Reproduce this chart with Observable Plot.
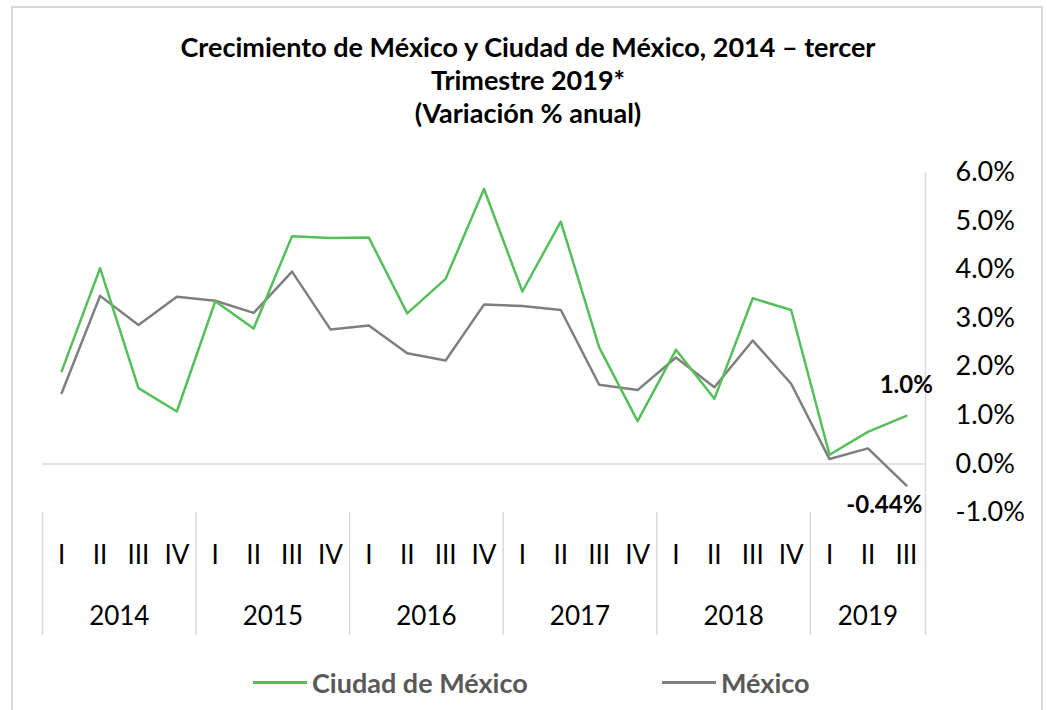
<!DOCTYPE html>
<html>
<head>
<meta charset="utf-8">
<script src="https://cdn.jsdelivr.net/npm/d3@7"></script>
<script src="https://cdn.jsdelivr.net/npm/@observablehq/plot@0.6"></script>
<style>
  html, body { margin: 0; padding: 0; background: #fff; }
  body { width: 1047px; height: 710px; position: relative; overflow: hidden; font-family: Lato, "Open Sans", sans-serif; }
  #frame { position: absolute; left: 11px; top: 6px; width: 1032px; height: 720px; border: 2px solid #d9d9d9; box-sizing: border-box; }
  #title { position: absolute; left: 11px; width: 1034px; top: 30px; text-align: center; font-weight: 700; font-size: 27px; line-height: 33px; color: #000; }
  #chart { position: absolute; left: 0; top: 140px; }
  #legend { position: absolute; left: 0; top: 664px; width: 1047px; height: 36px; font-weight: 700; font-size: 27px; color: #595959; }
  .item { position: absolute; top: 0; display: flex; align-items: center; height: 36px; }
  .sw { display: inline-block; width: 54px; height: 3px; margin-right: 5px; }
</style>
</head>
<body>
<div id="frame"></div>
<div id="title">Crecimiento de México y Ciudad de México, 2014 – tercer<br>Trimestre 2019*<br>(Variación % anual)</div>
<div id="chart"></div>
<div id="legend"></div>
<script>
// Data
const years = ["2014", "2015", "2016", "2017", "2018", "2019"];
const quartersPerYear = [4, 4, 4, 4, 4, 3];
const quarterNames = ["I", "II", "III", "IV"];
const seriesNames = ["Ciudad de México", "México"];
const seriesColors = ["#55bf5b", "#7f7f7f"];
const cdmx = [1.91, 4.03, 1.56, 1.08, 3.35, 2.79, 4.69, 4.65, 4.66, 3.10, 3.81, 5.66,
              3.55, 4.99, 2.40, 0.88, 2.35, 1.34, 3.41, 3.17, 0.19, 0.66, 0.99];
const mexico = [1.46, 3.46, 2.86, 3.44, 3.36, 3.11, 3.96, 2.77, 2.85, 2.28, 2.13, 3.28,
                3.25, 3.17, 1.63, 1.52, 2.19, 1.58, 2.54, 1.65, 0.10, 0.32, -0.44];
const endLabels = ["1.0%", "-0.44%"];
const yTicks = [-1, 0, 1, 2, 3, 4, 5, 6];

// Build tables
const quarters = [];
years.forEach((y, yi) => { for (let q = 0; q < quartersPerYear[yi]; q++) quarters.push({year: y, q: quarterNames[q]}); });
const rows = [];
quarters.forEach((d, i) => {
  rows.push({i, value: cdmx[i], series: seriesNames[0]});
  rows.push({i, value: mexico[i], series: seriesNames[1]});
});
const n = quarters.length;
const separators = [];
const yearCenters = [];
let start = 0;
quartersPerYear.forEach((k, yi) => {
  separators.push(start - 0.5);
  yearCenters.push({x: start + (k - 1) / 2, label: years[yi]});
  start += k;
});
separators.push(n - 0.5);
const last = n - 1;
const endPts = [
  {i: last, value: cdmx[last], label: endLabels[0]},
  {i: last, value: mexico[last], label: endLabels[1]}
];

const chart = Plot.plot({
  width: 1047,
  height: 510,
  marginLeft: 42,
  marginRight: 122,
  marginTop: 32,
  marginBottom: 138,
  style: {fontFamily: "Lato, 'Open Sans', sans-serif", color: "#000", background: "transparent"},
  x: {domain: [-0.5, n - 0.5], axis: null},
  y: {domain: [-1, 6], axis: null},
  color: {domain: seriesNames, range: seriesColors},
  marks: [
    Plot.ruleY([0], {stroke: "#d9d9d9", strokeWidth: 1.5}),
    Plot.ruleX([n - 0.5], {stroke: "#d9d9d9", strokeWidth: 1.5}),
    Plot.axisX({ticks: separators, tickSize: 123, tickFormat: () => "", label: null, stroke: "#d9d9d9", strokeWidth: 1.5, strokeOpacity: 1}),
    Plot.axisX({ticks: d3.range(n), tickSize: 0, tickPadding: 33, label: null, tickFormat: i => quarters[i].q, fontSize: 26, fill: "#000"}),
    Plot.axisX({ticks: yearCenters.map(d => d.x), tickSize: 0, tickPadding: 94, label: null, tickFormat: x => yearCenters.find(d => d.x === x).label, fontSize: 26, fill: "#000"}),
    Plot.axisY({anchor: "right", ticks: yTicks, tickSize: 0, tickPadding: 30, label: null, textAnchor: "start", tickFormat: d => d.toFixed(1) + "%", fontSize: 27, fill: "#000"}),
    Plot.line(rows.filter(d => d.series === seriesNames[1]), {x: "i", y: "value", stroke: "series", strokeWidth: 2.5}),
    Plot.line(rows.filter(d => d.series === seriesNames[0]), {x: "i", y: "value", stroke: "series", strokeWidth: 2.5}),
    Plot.text([endPts[0]], {x: "i", y: "value", text: "label", dy: -31, dx: 0, fontSize: 24, fontWeight: 700, fill: "#000"}),
    Plot.text([endPts[1]], {x: "i", y: "value", text: "label", dy: 20, dx: -22, fontSize: 24, fontWeight: 700, fill: "#000"})
  ]
});
document.getElementById("chart").appendChild(chart);

// Legend
const legend = document.getElementById("legend");
const legendX = [253, 662];
seriesNames.forEach((s, k) => {
  const item = document.createElement("div");
  item.className = "item";
  item.style.left = legendX[k] + "px";
  const sw = document.createElement("span");
  sw.className = "sw";
  sw.style.background = seriesColors[k];
  const label = document.createElement("span");
  label.textContent = s;
  item.appendChild(sw);
  item.appendChild(label);
  legend.appendChild(item);
});
</script>
</body>
</html>
